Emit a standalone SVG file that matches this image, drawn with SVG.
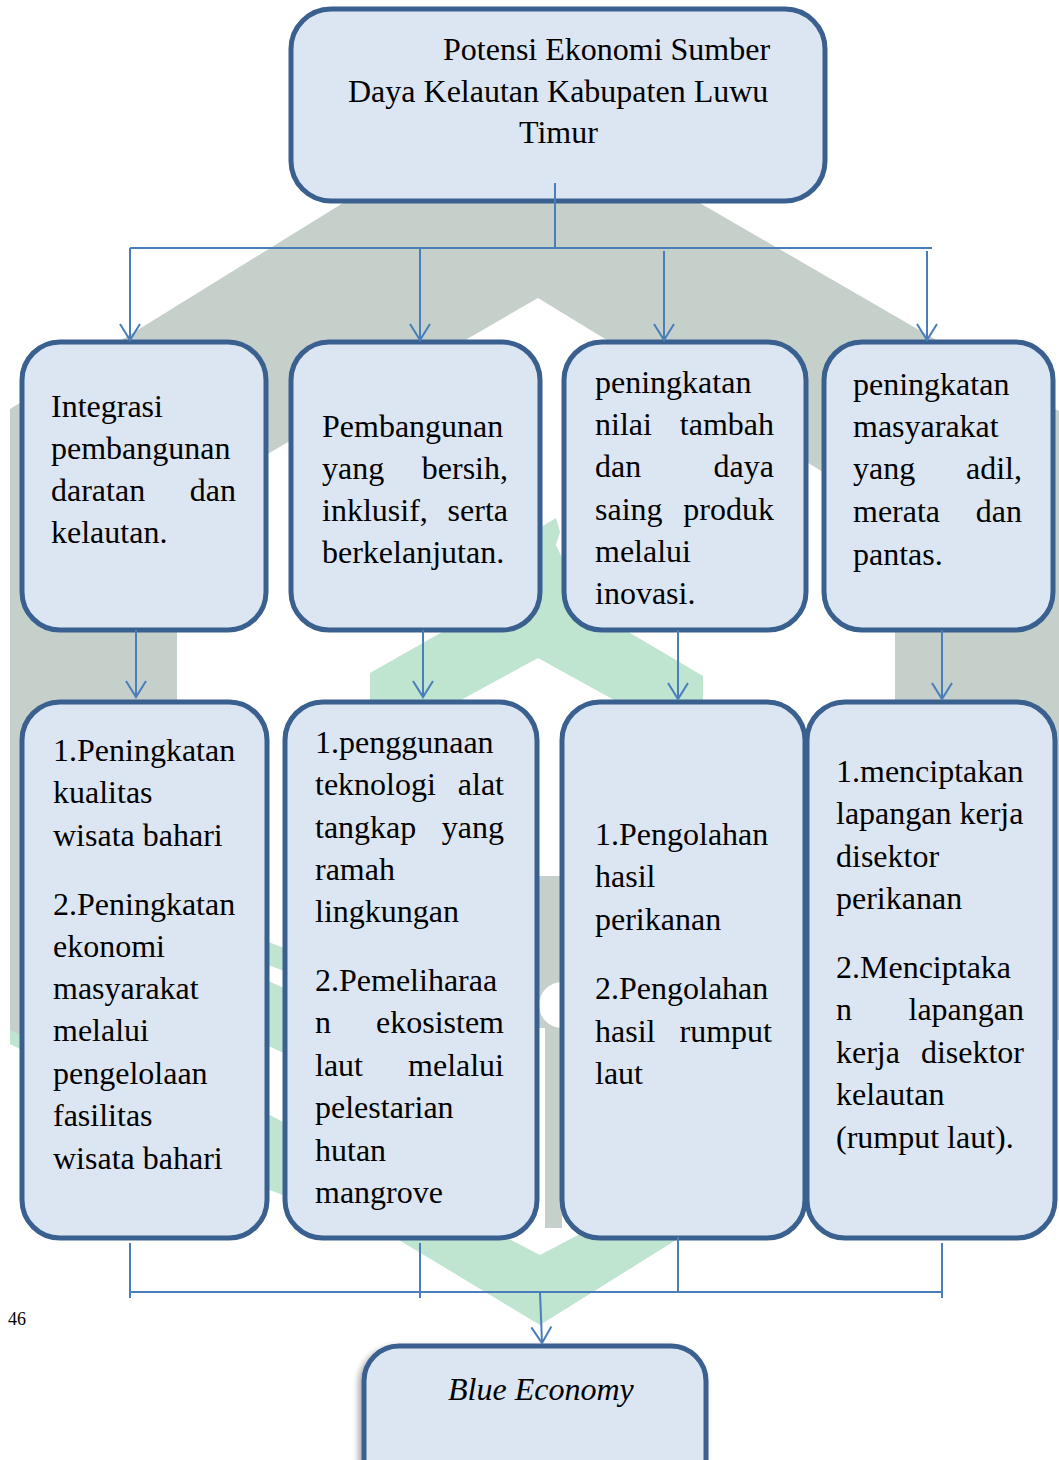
<svg xmlns="http://www.w3.org/2000/svg" width="1059" height="1460" viewBox="0 0 1059 1460">
<defs>
<style>
.box{fill:#dce6f2;stroke:#3a6090;stroke-width:5}
.t{font-family:"Liberation Serif","Times New Roman",serif;font-size:32px;fill:#000}
.e{text-anchor:end}
.c{fill:none;stroke:#4a7ebb;stroke-width:2}
.g{fill:#c6d0cb}
.gr{fill:#bfe4d0}
.pn{font-family:"Liberation Serif","Times New Roman",serif;font-size:18px;fill:#000}
</style>
<marker id="arr" viewBox="-18 -12 20 24" refX="0" refY="0" markerWidth="20" markerHeight="24" markerUnits="userSpaceOnUse" orient="auto">
<path d="M-16,-10 L0,0 L-16,10" fill="none" stroke="#4a7ebb" stroke-width="2"/>
</marker>
<filter id="sh" x="-10%" y="-10%" width="120%" height="130%">
<feGaussianBlur in="SourceAlpha" stdDeviation="3"/>
<feOffset dx="-3" dy="3" result="b"/>
<feComponentTransfer><feFuncA type="linear" slope="0.35"/></feComponentTransfer>
<feMerge><feMergeNode/><feMergeNode in="SourceGraphic"/></feMerge>
</filter>
</defs>
<rect width="1059" height="1460" fill="#fff"/>
<g id="watermark">
<polygon class="g" points="10,409 356,195 686,195 1059,411 1059,1040 895,1040 895,516 538,298 177,506 177,1035 10,1035"/>
<rect class="g" x="537" y="876" width="25" height="352"/>
<circle cx="562" cy="1005" r="23" fill="#fff"/>
<rect x="536" y="1028" width="9" height="200" fill="#fff"/>
<polygon class="gr" points="370,1000 370,673 537,578 703,676 703,1000 625,1000 625,706 538,658 450,706 450,1000"/>
<polygon class="gr" points="541,527 556,518 560,532 556,545 563,560 563,630 541,630"/>
<polygon class="gr" points="200,1160 262,1187 399,1240 540,1325 676,1240 815,1187 880,1160 880,1090 815,1111 540,1255 262,1111 200,1090"/>
<polygon class="gr" points="255,975 295,993 295,1058 255,1040"/>
<polygon class="gr" points="255,937 295,952 295,975 255,960"/>
<polygon class="gr" points="10,1030 22,1036 22,1050 10,1044"/>
</g>
<g id="node-top">
<rect class="box" x="291" y="9" width="534" height="192" rx="40"/>
<text class="t" x="443" y="60">Potensi Ekonomi Sumber</text>
<text class="t" x="348" y="102">Daya Kelautan Kabupaten Luwu</text>
<text class="t" x="519" y="143">Timur</text>
</g>
<g id="node-a">
<rect class="box" x="22" y="342" width="244" height="288" rx="38"/>
<text class="t" x="51" y="417">Integrasi</text>
<text class="t" x="51" y="459">pembangunan</text>
<text class="t" x="51" y="501">daratan</text><text class="t e" x="236" y="501">dan</text>
<text class="t" x="51" y="543">kelautan.</text>
</g>
<g id="node-b">
<rect class="box" x="291" y="342" width="249" height="288" rx="38"/>
<text class="t" x="322" y="437">Pembangunan</text>
<text class="t" x="322" y="479">yang</text><text class="t e" x="508" y="479">bersih,</text>
<text class="t" x="322" y="521">inklusif,</text><text class="t e" x="508" y="521">serta</text>
<text class="t" x="322" y="563">berkelanjutan.</text>
</g>
<g id="node-c">
<rect class="box" x="564" y="342" width="242" height="288" rx="38"/>
<text class="t" x="595" y="393">peningkatan</text>
<text class="t" x="595" y="435">nilai</text><text class="t e" x="774" y="435">tambah</text>
<text class="t" x="595" y="477">dan</text><text class="t e" x="774" y="477">daya</text>
<text class="t" x="595" y="520">saing</text><text class="t e" x="774" y="520">produk</text>
<text class="t" x="595" y="562">melalui</text>
<text class="t" x="595" y="604">inovasi.</text>
</g>
<g id="node-d">
<rect class="box" x="824" y="342" width="229" height="288" rx="38"/>
<text class="t" x="853" y="395">peningkatan</text>
<text class="t" x="853" y="437">masyarakat</text>
<text class="t" x="853" y="479">yang</text><text class="t e" x="1022" y="479">adil,</text>
<text class="t" x="853" y="522">merata</text><text class="t e" x="1022" y="522">dan</text>
<text class="t" x="853" y="565">pantas.</text>
</g>
<g id="node-e">
<rect class="box" x="22" y="702" width="245" height="536" rx="38"/>
<text class="t" x="53" y="761">1.Peningkatan</text>
<text class="t" x="53" y="803">kualitas</text>
<text class="t" x="53" y="846">wisata bahari</text>
<text class="t" x="53" y="915">2.Peningkatan</text>
<text class="t" x="53" y="957">ekonomi</text>
<text class="t" x="53" y="999">masyarakat</text>
<text class="t" x="53" y="1041">melalui</text>
<text class="t" x="53" y="1084">pengelolaan</text>
<text class="t" x="53" y="1126">fasilitas</text>
<text class="t" x="53" y="1169">wisata bahari</text>
</g>
<g id="node-f">
<rect class="box" x="285" y="702" width="252" height="536" rx="38"/>
<text class="t" x="315" y="753">1.penggunaan</text>
<text class="t" x="315" y="795">teknologi</text><text class="t e" x="504" y="795">alat</text>
<text class="t" x="315" y="838">tangkap</text><text class="t e" x="504" y="838">yang</text>
<text class="t" x="315" y="880">ramah</text>
<text class="t" x="315" y="922">lingkungan</text>
<text class="t" x="315" y="991">2.Pemeliharaa</text>
<text class="t" x="315" y="1033">n</text><text class="t e" x="504" y="1033">ekosistem</text>
<text class="t" x="315" y="1076">laut</text><text class="t e" x="504" y="1076">melalui</text>
<text class="t" x="315" y="1118">pelestarian</text>
<text class="t" x="315" y="1161">hutan</text>
<text class="t" x="315" y="1203">mangrove</text>
</g>
<g id="node-g">
<rect class="box" x="562" y="702" width="243" height="536" rx="38"/>
<text class="t" x="595" y="845">1.Pengolahan</text>
<text class="t" x="595" y="887">hasil</text>
<text class="t" x="595" y="930">perikanan</text>
<text class="t" x="595" y="999">2.Pengolahan</text>
<text class="t" x="595" y="1042">hasil</text><text class="t e" x="772" y="1042">rumput</text>
<text class="t" x="595" y="1084">laut</text>
</g>
<g id="node-h">
<rect class="box" x="807" y="702" width="248" height="536" rx="38"/>
<text class="t" x="836" y="782">1.menciptakan</text>
<text class="t" x="836" y="824">lapangan kerja</text>
<text class="t" x="836" y="867">disektor</text>
<text class="t" x="836" y="909">perikanan</text>
<text class="t" x="836" y="978">2.Menciptaka</text>
<text class="t" x="836" y="1020">n</text><text class="t e" x="1024" y="1020">lapangan</text>
<text class="t" x="836" y="1063">kerja</text><text class="t e" x="1024" y="1063">disektor</text>
<text class="t" x="836" y="1105">kelautan</text>
<text class="t" x="836" y="1148">(rumput laut).</text>
</g>
<g id="node-blue">
<rect class="box" x="364" y="1346" width="342" height="170" rx="35" filter="url(#sh)"/>
<text class="t" x="448" y="1400" font-style="italic">Blue Economy</text>
</g>
<g id="connectors">
<path class="c" d="M555,183 V248 M130,248 H932 M130,1292 H942 M130,1243 V1298 M420,1243 V1298 M678,1237 V1292 M942,1243 V1298"/>
<path class="c" d="M130,248 V340" marker-end="url(#arr)"/>
<path class="c" d="M420,248 V340" marker-end="url(#arr)"/>
<path class="c" d="M664,251 V340" marker-end="url(#arr)"/>
<path class="c" d="M927,251 V340" marker-end="url(#arr)"/>
<path class="c" d="M136,630 V697" marker-end="url(#arr)"/>
<path class="c" d="M423,630 V697" marker-end="url(#arr)"/>
<path class="c" d="M678,630 V699" marker-end="url(#arr)"/>
<path class="c" d="M942,630 V699" marker-end="url(#arr)"/>
<path class="c" d="M540,1292 L542,1343" marker-end="url(#arr)"/>
</g>
<text class="pn" x="8" y="1325">46</text>
</svg>
